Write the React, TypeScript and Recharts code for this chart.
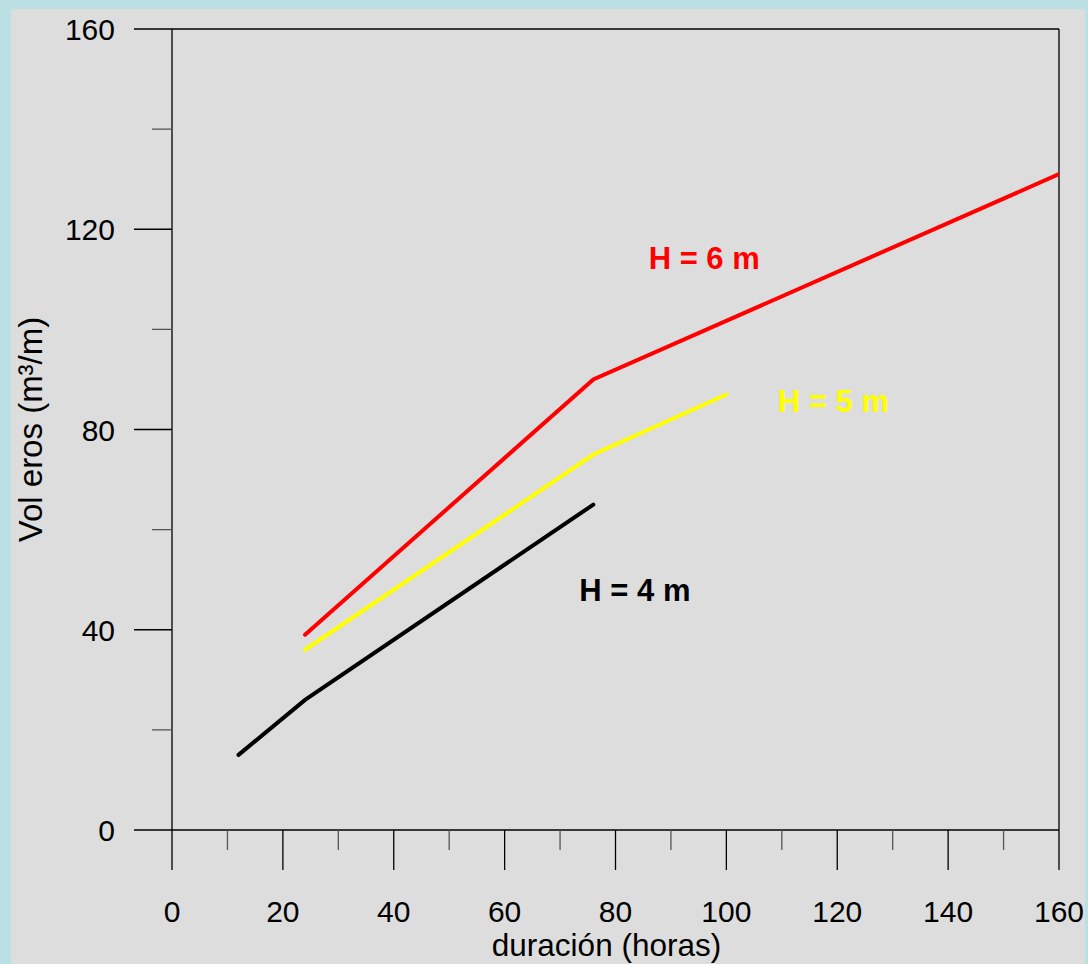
import { LineChart, Line, XAxis, YAxis, ReferenceLine, ReferenceDot } from "recharts";

// data
const h4 = [
  { x: 12, y: 15 },
  { x: 24, y: 26 },
  { x: 76, y: 65 },
];
const h5 = [
  { x: 24, y: 36 },
  { x: 76, y: 75 },
  { x: 100, y: 87 },
];
const h6 = [
  { x: 24, y: 39 },
  { x: 76, y: 90 },
  { x: 160, y: 131 },
];

const xTicks = [0, 10, 20, 30, 40, 50, 60, 70, 80, 90, 100, 110, 120, 130, 140, 150, 160];
const yTicks = [0, 20, 40, 60, 80, 100, 120, 140, 160];

const notes = [
  { x: 96, y: 114.3, text: "H = 6 m", color: "#ff0000" },
  { x: 119.3, y: 85.7, text: "H = 5 m", color: "#ffff00" },
  { x: 83.5, y: 47.9, text: "H = 4 m", color: "#000000" },
];

const font = "'Liberation Sans', Arial, sans-serif";

const XTick = ({ x, y, payload }: any) => {
  const major = payload.value % 20 === 0;
  return (
    <g>
      <line x1={x} y1={y} x2={x} y2={y + (major ? 40 : 20)} stroke={major ? "#000" : "#555"} strokeWidth={1.3} />
      {major && (
        <text x={x} y={y + 92} textAnchor="middle" fontSize={30} fontFamily={font} fill="#000">
          {payload.value}
        </text>
      )}
    </g>
  );
};

const YTick = ({ x, y, payload }: any) => {
  const major = payload.value % 40 === 0;
  return (
    <g>
      <line x1={x - (major ? 38 : 20)} y1={y} x2={x} y2={y} stroke={major ? "#000" : "#555"} strokeWidth={1.3} />
      {major && (
        <text x={x - 57} y={y + 11} textAnchor="end" fontSize={30} fontFamily={font} fill="#000">
          {payload.value}
        </text>
      )}
    </g>
  );
};

export default function App() {
  return (
    <div style={{ position: "absolute", left: 0, top: 0, width: 1088, height: 964, background: "#bbe0e3" }}>
      <div style={{ position: "absolute", left: 11, top: 9, width: 1074, height: 955, background: "#dddddd" }} />
      <div style={{ position: "absolute", left: 0, top: 0 }}>
        <LineChart width={1088} height={964} margin={{ top: 29, right: 29, left: 0, bottom: 0 }}>
          <XAxis
            type="number"
            dataKey="x"
            domain={[0, 160]}
            ticks={xTicks}
            interval={0}
            height={134}
            tickSize={0}
            tickMargin={0}
            tickLine={false}
            tick={XTick}
            axisLine={{ stroke: "#000", strokeWidth: 1.3 }}
            allowDataOverflow
            label={{
              value: "duración (horas)",
              position: "insideBottom",
              offset: 8,
              dx: -9,
              fontSize: 31.5,
              fontFamily: font,
              fill: "#000",
            }}
          />
          <YAxis
            type="number"
            domain={[0, 160]}
            ticks={yTicks}
            interval={0}
            width={172}
            tickSize={0}
            tickMargin={0}
            tickLine={false}
            tick={YTick}
            axisLine={{ stroke: "#000", strokeWidth: 1.3 }}
            allowDataOverflow
            label={{
              value: "Vol eros (m³/m)",
              angle: -90,
              position: "insideLeft",
              offset: 30,
              style: { textAnchor: "middle" },
              fontSize: 33,
              fontFamily: font,
              fill: "#000",
            }}
          />
          <ReferenceLine y={160} stroke="#000" strokeWidth={1.3} />
          <ReferenceLine x={160} stroke="#000" strokeWidth={1.3} />
          <Line data={h4} dataKey="y" type="linear" stroke="#000000" strokeWidth={4} dot={false} strokeLinecap="round" isAnimationActive={false} />
          <Line data={h5} dataKey="y" type="linear" stroke="#ffff00" strokeWidth={4} dot={false} strokeLinecap="round" isAnimationActive={false} />
          <Line data={h6} dataKey="y" type="linear" stroke="#ff0000" strokeWidth={4} dot={false} strokeLinecap="round" isAnimationActive={false} />
          {notes.map((n) => (
            <ReferenceDot
              key={n.text}
              x={n.x}
              y={n.y}
              r={0}
              stroke="none"
              label={{ value: n.text, position: "center", fill: n.color, fontSize: 31, fontWeight: "bold", fontFamily: font }}
            />
          ))}
        </LineChart>
      </div>
    </div>
  );
}
